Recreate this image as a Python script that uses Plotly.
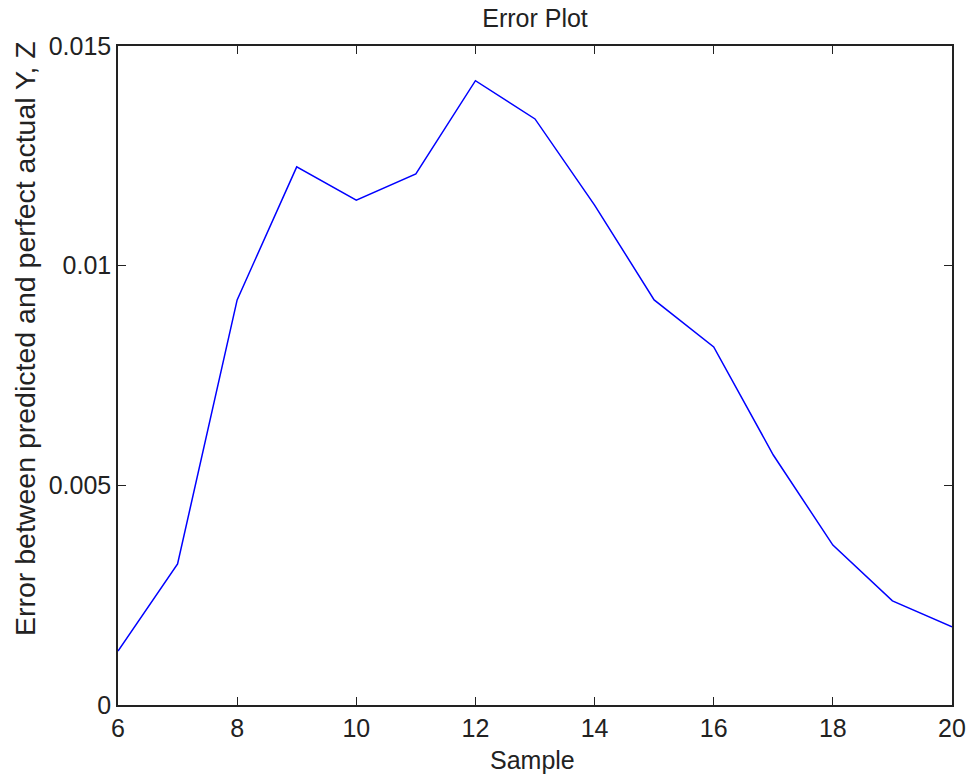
import plotly.graph_objects as go

samples = [6, 7, 8, 9, 10, 11, 12, 13, 14, 15, 16, 17, 18, 19, 20]
errors = [0.00123, 0.00321, 0.00922, 0.01225, 0.01149, 0.01209, 0.01421, 0.01334,
          0.01138, 0.00922, 0.00815, 0.00569, 0.00364, 0.00237, 0.00178]
x_ticks = [6, 8, 10, 12, 14, 16, 18, 20]
y_ticks = [0, 0.005, 0.01, 0.015]
y_tick_labels = ["0", "0.005", "0.01", "0.015"]

fam = "Liberation Sans, Arial, sans-serif"
tick_font = dict(family=fam, size=25, color="#222")
axis_common = dict(showgrid=False, zeroline=False, showline=True, linecolor="#222",
                   linewidth=1.5, mirror="ticks", ticks="inside", ticklen=8,
                   tickwidth=1.2, tickcolor="#222", tickfont=tick_font, automargin=False)

fig = go.Figure()
fig.add_trace(go.Scatter(x=samples, y=errors, mode="lines",
                         line=dict(color="#0000ff", width=1.5)))

fig.update_layout(
    width=969, height=778,
    margin=dict(l=118, r=17, t=46, b=73),
    paper_bgcolor="white", plot_bgcolor="white",
    showlegend=False,
    title=dict(text="Error Plot", x=0.5, xanchor="center", xref="paper",
               y=1 - 18 / 778, yanchor="middle",
               font=dict(family=fam, size=25, color="#222")),
    xaxis=dict(range=[6, 20], tickvals=x_ticks, **axis_common),
    yaxis=dict(range=[0, 0.015], tickvals=y_ticks, ticktext=y_tick_labels, **axis_common),
    annotations=[
        dict(text="Error between predicted and perfect actual Y, Z",
             textangle=-90, xref="paper", yref="paper",
             x=(25 - 118) / 834, y=(705 - 339) / 659,
             xanchor="center", yanchor="middle", showarrow=False,
             font=dict(family=fam, size=28.5, color="#222")),
        dict(text="Sample", xref="paper", yref="paper",
             x=(532 - 118) / 834, y=(705 - 760) / 659,
             xanchor="center", yanchor="middle", showarrow=False,
             font=dict(family=fam, size=25, color="#222")),
    ],
)

fig.write_html("out.html")
